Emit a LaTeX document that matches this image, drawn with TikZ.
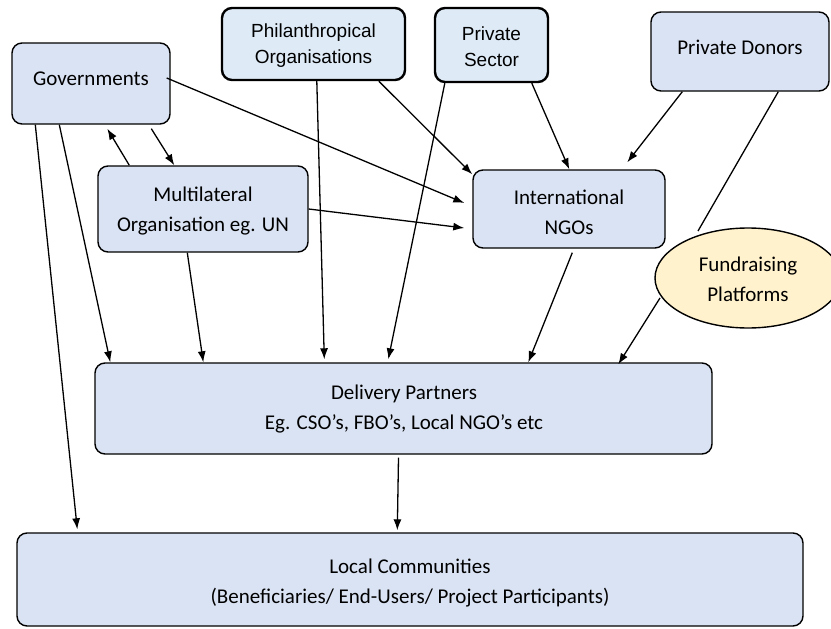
\documentclass[tikz,border=0pt]{standalone}
\usepackage{fontspec}
\setmainfont{Carlito}
\newfontfamily\arialf{Liberation Sans}
\usetikzlibrary{calc,arrows.meta,shapes.geometric}
\definecolor{boxblue}{HTML}{DAE3F3}
\definecolor{boxblueL}{HTML}{DEEBF7}
\definecolor{fundfill}{HTML}{FFF2CC}
\tikzset{
  box/.style={draw=black, line width=1.4pt, fill=boxblue, rounded corners=10pt, inner sep=0pt},
  boxthick/.style={box, line width=2.4pt, fill=boxblueL},
  txt/.style={font=\fontsize{21}{30}\selectfont, align=center, inner sep=0pt},
  atxt/.style={font=\arialf\fontsize{19}{26}\selectfont, align=center, inner sep=0pt},
  conn/.style={line width=1.3pt, -{Latex[length=11pt,width=8pt]}},
  plain/.style={line width=1.3pt}
}
\begin{document}
\begin{tikzpicture}[x=1pt,y=-1pt]
\useasboundingbox (0,0) rectangle (831,629);
% boxes
\node[box, minimum width=158pt, minimum height=81pt] (gov) at (91,83.5) {};
\node[txt] (govt) at (91,79) {Governments};
\node[boxthick, minimum width=183pt, minimum height=72pt] (phil) at (313.5,44) {};
\node[atxt] (philt) at (313.5,46) {Philanthropical\\Organisations};
\node[boxthick, minimum width=113pt, minimum height=74pt] (psec) at (491.5,45) {};
\node[atxt] (psect) at (491.5,47) {Private\\Sector};
\node[box, minimum width=178pt, minimum height=79pt] (pdon) at (740,51.5) {};
\node[txt] (pdont) at (740,47) {Private Donors};
\node[box, minimum width=210pt, minimum height=86pt] (multi) at (203,209) {};
\node[txt] (multit) at (203,211) {Multilateral\\Organisation eg. UN};
\node[box, minimum width=192pt, minimum height=78pt] (ingo) at (569,209) {};
\node[txt] (ingot) at (569,212) {International\\NGOs};
\node[draw=black, line width=1.4pt, fill=fundfill, ellipse, minimum width=186pt, minimum height=100pt, inner sep=0pt] (fund) at (748,278) {};
\node[txt] (fundt) at (748,279) {Fundraising\\Platforms};
\node[box, minimum width=617pt, minimum height=91pt] (deliv) at (403.5,408.5) {};
\node[txt] (delivt) at (404,409) {Delivery Partners\\Eg. CSO’s, FBO’s, Local NGO’s etc};
\node[box, minimum width=786pt, minimum height=93pt] (local) at (410,579.5) {};
\node[txt] (localt) at (410,583) {Local Communities\\(Beneficiaries/ End-Users/ Project Participants)};
% connectors
\draw[conn] ($(gov.south west)+(24,0)$) -- ($(local.north west)+(61,-3)$);
\draw[conn] ($(gov.south west)+(48,0)$) -- ($(deliv.north west)+(16,0)$);
\draw[conn] ($(multi.north west)+(32,0)$) -- ($(gov.south west)+(96,4)$);
\draw[conn] ($(gov.south west)+(140,4)$) -- ($(multi.north west)+(77,0)$);
\draw[conn] ($(gov.east)+(-4,-5.5)$) -- ($(ingo.west)+(-8,-6)$);
\draw[conn] ($(phil.south west)+(158,0)$) -- ($(ingo.north west)+(0,5)$);
\draw[conn] (multi.east) -- ($(ingo.west)+(-8,19)$);
\draw[conn] ($(phil.south west)+(96,0)$) -- ($(deliv.north west)+(230,-3)$);
\draw[conn] ($(psec.south west)+(98,0)$) -- ($(ingo.north west)+(97,0)$);
\draw[conn] ($(psec.south west)+(11,0)$) -- ($(deliv.north west)+(294,-3)$);
\draw[conn] ($(pdon.south west)+(32,0)$) -- ($(ingo.north west)+(155,-7)$);
\draw[plain] ($(pdon.south west)+(128,0)$) -- ($(fund.center)+(-50,-47)$);
\draw[conn] ($(multi.south west)+(90,0)$) -- ($(deliv.north west)+(109,0)$);
\draw[conn] ($(ingo.south west)+(100,4)$) -- ($(deliv.north west)+(434,0)$);
\draw[conn] ($(fund.center)+(-88,20)$) -- ($(deliv.north west)+(524,2)$);
\draw[conn] ($(deliv.south)+(-5,3)$) -- ($(local.north west)+(381,-2)$);
\end{tikzpicture}
\end{document}
